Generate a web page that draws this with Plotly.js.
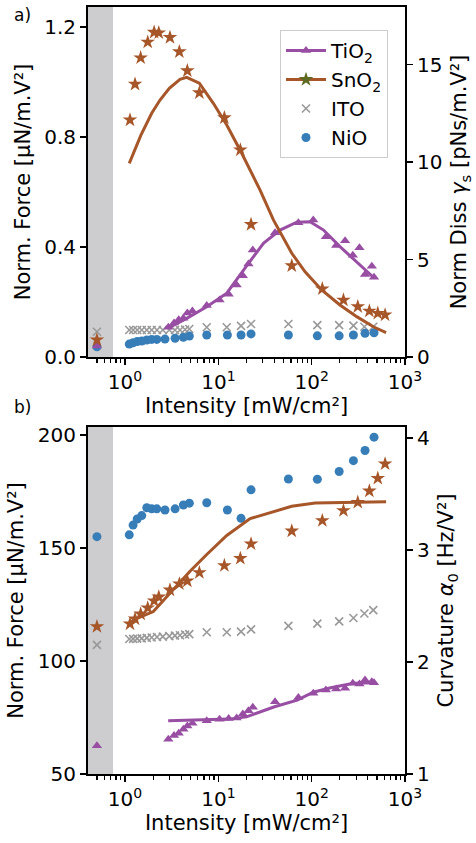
<!DOCTYPE html>
<html>
<head>
<meta charset="utf-8">
<script src="https://cdn.plot.ly/plotly-3.0.1.min.js"></script>
<style>html,body{margin:0;padding:0;background:#fff;}#chart{width:476px;height:843px;}</style>
</head>
<body>
<div id="chart"></div>
<script>
// ---------- data ----------
const darkX = [0.5];
// TiO2
const tio2X = [2.91,3.35,3.76,4.22,4.65,5.27,7.51,10.3,12.9,15.7,18.3,21.0,23.4,40.5,72.0,104,142,183,228,276,325,373,441,466];
const tio2ForceA = [0.108,0.124,0.135,0.141,0.160,0.167,0.187,0.207,0.228,0.262,0.295,0.338,0.389,0.452,0.488,0.498,0.437,0.405,0.423,0.370,0.397,0.300,0.330,0.290];
const tio2ForceB = [65.4,67.0,68.0,69.8,71.2,72.4,73.6,74.2,74.5,74.8,76.5,78.0,79.5,82.0,83.8,85.7,87.2,87.6,87.9,90.1,89.8,91.6,90.8,90.4];
const tio2DarkA = [0.040];
const tio2DarkB = [62.5];
const tio2LineXA = [2.98,4.58,7.51,12.3,20.1,30.4,45.8,69.2,96.1,134,201,304,458];
const tio2DissA = [1.52,1.98,2.58,3.27,4.67,5.83,6.51,6.91,6.94,6.51,5.66,4.89,4.09];
const tio2LineXB = [2.9,7.5,13,20,40,70,104,160,280,466];
const tio2CurvB = [1.475,1.485,1.49,1.51,1.60,1.66,1.73,1.77,1.81,1.815];
// SnO2
const sno2X = [1.13,1.28,1.47,1.75,2.05,2.30,3.03,3.82,4.65,6.26,11.6,17.2,22.4,61.2,130,219,312,415,511,612];
const sno2ForceA = [0.862,0.992,1.088,1.145,1.181,1.179,1.162,1.110,1.041,0.961,0.870,0.753,0.482,0.332,0.248,0.207,0.183,0.167,0.159,0.153];
const sno2ForceB = [116.4,118.6,120.8,123.5,126.6,128.3,131.4,134.1,135.4,139.1,142.2,145.4,151.8,157.5,162.1,166.5,170.2,175.2,180.8,187.2];
const sno2DarkA = [0.062];
const sno2DarkB = [115.2];
const sno2LineXA = [1.11,1.48,1.93,2.37,2.98,3.88,4.58,6.25,8.84,12.3,17.8,28.0,38.9,61.2,85.0,128,201,304,458,627];
const sno2DissA = [9.93,11.38,12.50,13.18,13.78,14.24,14.34,14.04,13.01,11.90,10.45,8.56,7.03,5.32,4.37,3.44,2.67,2.07,1.55,1.25];
const sno2LineXB = [1.1,1.23,2.01,3.03,4.97,7.51,12.3,21.9,45.8,61.2,109,627];
const sno2CurvB = [2.33,2.375,2.45,2.61,2.81,2.96,3.13,3.28,3.36,3.39,3.42,3.43];
// ITO
const itoX = [1.11,1.22,1.35,1.51,1.71,1.93,2.20,2.54,2.98,3.43,3.88,4.40,4.88,7.51,12.3,17.5,22.4,56.3,115,197,280,367,457];
const itoForceA = [0.098,0.098,0.098,0.098,0.098,0.098,0.098,0.098,0.098,0.098,0.098,0.100,0.102,0.108,0.108,0.113,0.120,0.120,0.116,0.116,0.114,0.110,0.110];
const itoForceB = [109.7,109.8,109.9,110.0,110.2,110.4,110.6,110.8,111.0,111.2,111.4,111.7,111.9,112.7,112.7,113.0,114.0,115.5,116.5,117.5,119.0,121.0,122.5];
const itoDarkA = [0.092];
const itoDarkB = [107.1];
// NiO
const nioX = [1.11,1.22,1.35,1.51,1.71,1.93,2.19,2.68,3.44,4.22,4.89,7.51,12.5,17.5,22.4,56.3,115,197,280,373,466];
const nioForceA = [0.047,0.052,0.056,0.058,0.062,0.064,0.064,0.065,0.068,0.072,0.076,0.080,0.080,0.080,0.084,0.080,0.077,0.077,0.080,0.086,0.088];
const nioForceB = [155.8,160.1,162.8,164.3,167.8,167.3,167.3,166.8,167.3,169.0,169.8,170.0,166.8,163.1,175.7,180.5,180.4,183.8,188.6,193.1,199.0];
const nioDarkA = [0.037];
const nioDarkB = [155.0];

const names = ['TiO<sub>2</sub>','SnO<sub>2</sub>','ITO','NiO'];
const xTickVals = [1,10,100,1000];
const xTickText = ['10<sup>0</sup>','10<sup>1</sup>','10<sup>2</sup>','10<sup>3</sup>'];

// ---------- styles ----------
const C_TI = '#984ea3', C_SN = '#a65628', C_ITO = '#999999', C_NI = '#377eb8', C_SN_LEG = '#5d6b22';
const FONT = 'DejaVu Sans, sans-serif';
const mk = {
  ti: {symbol:'triangle-up', size:9, color:C_TI},
  sn: {symbol:'star', size:11, color:C_SN},
  ito:{symbol:'x-thin-open', size:8, color:C_ITO, line:{color:C_ITO, width:1.6}},
  ni: {symbol:'circle', size:9, color:C_NI}
};
function pts(x, y, m, xa, ya){ return {type:'scatter', mode:'markers', x:x, y:y, marker:m, xaxis:xa, yaxis:ya, showlegend:false, hoverinfo:'skip'}; }
function ln(x, y, c, xa, ya){ return {type:'scatter', mode:'lines', x:x, y:y, line:{color:c, width:3}, xaxis:xa, yaxis:ya, showlegend:false, hoverinfo:'skip'}; }

const traces = [
  // panel a
  pts(itoX.concat(darkX), itoForceA.concat(itoDarkA), mk.ito, 'x', 'y'),
  pts(nioX.concat(darkX), nioForceA.concat(nioDarkA), mk.ni, 'x', 'y'),
  pts(darkX, tio2DarkA, mk.ti, 'x', 'y'),
  pts(tio2X, tio2ForceA, mk.ti, 'x', 'y'),
  pts(sno2X.concat(darkX), sno2ForceA.concat(sno2DarkA), mk.sn, 'x', 'y'),
  ln(tio2LineXA, tio2DissA, C_TI, 'x', 'y2'),
  ln(sno2LineXA, sno2DissA, C_SN, 'x', 'y2'),
  // panel b
  pts(itoX.concat(darkX), itoForceB.concat(itoDarkB), mk.ito, 'x2', 'y3'),
  pts(nioX.concat(darkX), nioForceB.concat(nioDarkB), mk.ni, 'x2', 'y3'),
  pts(tio2X.concat(darkX), tio2ForceB.concat(tio2DarkB), mk.ti, 'x2', 'y3'),
  pts(sno2X.concat(darkX), sno2ForceB.concat(sno2DarkB), mk.sn, 'x2', 'y3'),
  ln(tio2LineXB, tio2CurvB, C_TI, 'x2', 'y4'),
  ln(sno2LineXB, sno2CurvB, C_SN, 'x2', 'y4'),
  // legend entries
  {type:'scatter', mode:'lines+markers', x:[null], y:[null], name:names[0], line:{color:C_TI, width:3}, marker:{symbol:'triangle-up', size:9, color:C_TI}, xaxis:'x', yaxis:'y'},
  {type:'scatter', mode:'lines+markers', x:[null], y:[null], name:names[1], line:{color:C_SN, width:3}, marker:{symbol:'star', size:11, color:C_SN_LEG}, xaxis:'x', yaxis:'y'},
  {type:'scatter', mode:'markers', x:[null], y:[null], name:names[2], marker:mk.ito, xaxis:'x', yaxis:'y'},
  {type:'scatter', mode:'markers', x:[null], y:[null], name:names[3], marker:mk.ni, xaxis:'x', yaxis:'y'}
];

const W = 476, H = 843;
const xDom = [88/W, 405/W];
const yDomA = [1-357/H, 1-7/H];
const yDomB = [1-774/H, 1-427/H];
const tickFont = {family:FONT, size:20, color:'#000'};
const titleFont = {family:FONT, size:21, color:'#000'};
const minorVals = [0.4,0.5,0.6,0.7,0.8,0.9,2,3,4,5,6,7,8,9,20,30,40,50,60,70,80,90,200,300,400,500,600,700,800,900];
function xAxis(anchor){
  return {type:'log', range:[Math.log10(0.401), 3], domain:xDom, anchor:anchor,
    showline:true, linecolor:'#000', linewidth:2, mirror:true,
    ticks:'outside', ticklen:6, tickwidth:1.6, tickcolor:'#000',
    tickvals:xTickVals, ticktext:xTickText, tickfont:tickFont,
    minor:{ticks:'outside', ticklen:3.5, tickwidth:1.2, tickcolor:'#000', tickvals:minorVals},
    showgrid:false, zeroline:false,
    title:{text:'Intensity [mW/cm²]', font:titleFont, standoff:2}};
}
function yAxis(range, dtick, fmt, dom, anchor, title, standoff, extra){
  return Object.assign({range:range, dtick:dtick, tick0:0, tickformat:fmt, domain:dom, anchor:anchor,
    showline:true, linecolor:'#000', linewidth:2,
    ticks:'outside', ticklen:6, tickwidth:1.6, tickcolor:'#000', tickfont:tickFont,
    showgrid:false, zeroline:false,
    title:{text:title, font:titleFont, standoff:standoff}}, extra||{});
}

const layout = {
  width:W, height:H, margin:{l:0, r:0, t:0, b:0},
  paper_bgcolor:'#fff', plot_bgcolor:'rgba(0,0,0,0)',
  font:{family:FONT, color:'#000'},
  xaxis: xAxis('y'),
  xaxis2: xAxis('y3'),
  yaxis: yAxis([0,1.2727], 0.4, '.1f', yDomA, 'x', 'Norm. Force [µN/m.V²]', 8),
  yaxis2: yAxis([0,17.95], 5, 'd', yDomA, 'x', 'Norm Diss <i>γ</i><sub>s</sub> [pNs/m.V²]', 10, {overlaying:'y', side:'right'}),
  yaxis3: yAxis([50,203.5], 50, 'd', yDomB, 'x2', 'Norm. Force [µN/m.V²]', 8),
  yaxis4: yAxis([1,4.098], 1, 'd', yDomB, 'x2', 'Curvature <i>α</i><sub>0</sub> [Hz/V²]', 10, {overlaying:'y3', side:'right'}),
  shapes:[
    {type:'rect', xref:'x domain', yref:'y domain', x0:0, x1:0.079, y0:0, y1:1, fillcolor:'#cdcdcf', line:{width:0}, layer:'below'},
    {type:'rect', xref:'x2 domain', yref:'y3 domain', x0:0, x1:0.079, y0:0, y1:1, fillcolor:'#cdcdcf', line:{width:0}, layer:'below'}
  ],
  annotations:[
    {text:'a)', xref:'paper', yref:'paper', x:12/W, y:1-15/H, xanchor:'left', yanchor:'middle', showarrow:false, font:{family:FONT, size:17, color:'#000'}},
    {text:'b)', xref:'paper', yref:'paper', x:12/W, y:1-407/H, xanchor:'left', yanchor:'middle', showarrow:false, font:{family:FONT, size:17, color:'#000'}}
  ],
  showlegend:true,
  legend:{x:280/W, y:1-30/H, xanchor:'left', yanchor:'top', bgcolor:'rgba(255,255,255,0.85)', bordercolor:'#cccccc', borderwidth:1,
    font:{family:FONT, size:20, color:'#000'}, tracegroupgap:0, itemwidth:40}
};

Plotly.newPlot('chart', traces, layout, {staticPlot:true, displayModeBar:false});
</script>
</body>
</html>
